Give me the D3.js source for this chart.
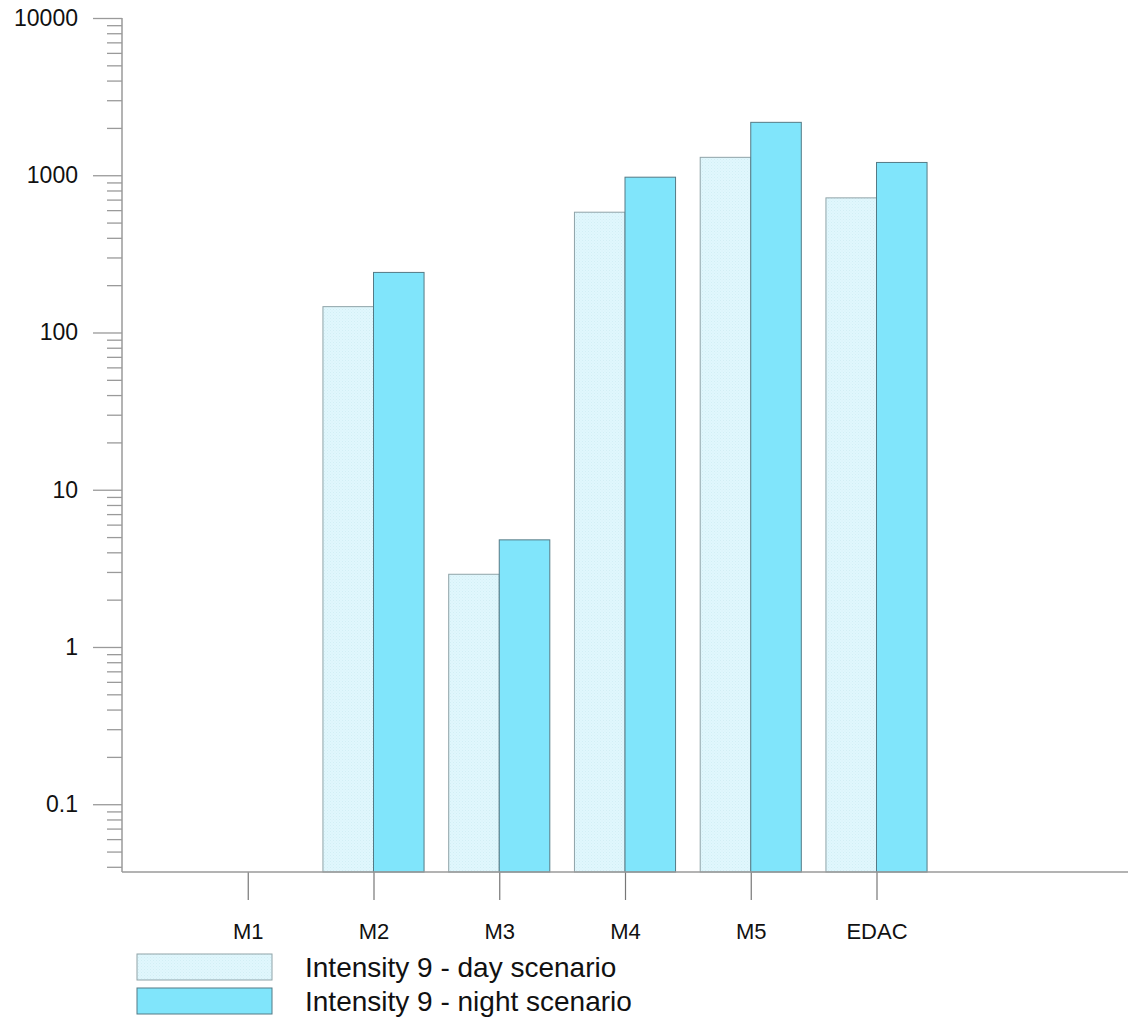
<!DOCTYPE html>
<html>
<head>
<meta charset="utf-8">
<script src="https://cdn.jsdelivr.net/npm/d3@7"></script>
<style>
  html, body { margin: 0; padding: 0; background: #fff; }
  svg { display: block; font-family: "Liberation Sans", Arial, sans-serif; }
</style>
</head>
<body>
<svg id="chart" width="1128" height="1018"></svg>
<script>
// ---- Data ----
const categories = ["M1", "M2", "M3", "M4", "M5", "EDAC"];
const daySeries = [null, 146, 2.9, 582, 1300, 718];
const nightSeries = [null, 241, 4.8, 972, 2170, 1206];
const seriesNames = ["Intensity 9 - day scenario", "Intensity 9 - night scenario"];
const majorTicks = [0.1, 1, 10, 100, 1000, 10000];
const majorTickLabels = ["0.1", "1", "10", "100", "1000", "10000"];

(function () {
// ---- Layout ----
const svg = d3.select("#chart");
const pLeft = 122, pRight = 1128, pTop = 18, pBottom = 872;
const dayFill = "#e0f7fd", nightFill = "#80e5fb";

const y = d3.scaleLog().domain([Math.pow(10, -1.431), 10000]).range([pBottom, pTop]);
// category slots: index 0..8 across the axis, categories at 1..6
const x = d3.scaleLinear().domain([0, 8]).range([pLeft, pRight]);
const step = x(1) - x(0);
const barW = step * 0.402;

// pattern for day bars
const defs = svg.append("defs");
const pat = defs.append("pattern").attr("id", "dots").attr("patternUnits", "userSpaceOnUse")
  .attr("width", 3).attr("height", 3);
pat.append("rect").attr("width", 3).attr("height", 3).attr("fill", dayFill);
pat.append("rect").attr("x", 0).attr("y", 0).attr("width", 1).attr("height", 1).attr("fill", "#d2eef4");
pat.append("rect").attr("x", 1.5).attr("y", 1.5).attr("width", 1).attr("height", 1).attr("fill", "#d8f1f6");

// ---- Bars ----
const g = svg.append("g");
categories.forEach((c, i) => {
  const cx = x(i + 1);
  const d = daySeries[i], n = nightSeries[i];
  if (d != null) {
    g.append("rect").attr("x", cx - barW).attr("y", y(d)).attr("width", barW)
      .attr("height", pBottom - y(d)).attr("fill", "url(#dots)")
      .attr("stroke", "#8fa3a8").attr("stroke-width", 1);
  }
  if (n != null) {
    g.append("rect").attr("x", cx).attr("y", y(n)).attr("width", barW)
      .attr("height", pBottom - y(n)).attr("fill", nightFill)
      .attr("stroke", "#557a85").attr("stroke-width", 1);
  }
});

// ---- Y axis ----
const minorTicks = [];
for (let e = -2; e <= 3; e++) {
  for (let k = 2; k <= 9; k++) {
    const v = k * Math.pow(10, e);
    if (v >= y.domain()[0] && v <= 10000) minorTicks.push(v);
  }
}
const axisColor = "#9a9a9a";
const yMinor = svg.append("g").attr("transform", `translate(${pLeft},0)`)
  .call(d3.axisLeft(y).tickValues(minorTicks).tickSize(15).tickFormat(""));
const yMajor = svg.append("g").attr("transform", `translate(${pLeft},0)`)
  .call(d3.axisLeft(y).tickValues(majorTicks).tickSize(29).tickPadding(15)
    .tickFormat((d, i) => majorTickLabels[i]));
[yMinor, yMajor].forEach(a => {
  a.select(".domain").remove();
  a.selectAll(".tick line").attr("stroke", axisColor).attr("stroke-width", 1.3);
});
yMajor.selectAll(".tick text").attr("font-size", 23).attr("fill", "#111")
  .attr("font-family", "Liberation Sans, Arial, sans-serif");
svg.append("line").attr("x1", pLeft).attr("x2", pLeft).attr("y1", pTop).attr("y2", pBottom)
  .attr("stroke", axisColor).attr("stroke-width", 1.5);

// ---- X axis ----
const xAxis = svg.append("g").attr("transform", `translate(0,${pBottom})`)
  .call(d3.axisBottom(x).tickValues(categories.map((c, i) => i + 1))
    .tickSize(28).tickPadding(23).tickFormat(d => categories[d - 1]));
xAxis.select(".domain").remove();
xAxis.selectAll(".tick line").attr("stroke", "#777").attr("stroke-width", 1.2);
xAxis.selectAll(".tick text").attr("font-size", 22).attr("fill", "#111")
  .attr("font-family", "Liberation Sans, Arial, sans-serif");
svg.append("line").attr("x1", pLeft).attr("x2", pRight).attr("y1", pBottom).attr("y2", pBottom)
  .attr("stroke", axisColor).attr("stroke-width", 1.5);

// ---- Legend ----
const legend = svg.append("g");
const legendFills = ["url(#dots)", nightFill];
const legendStrokes = ["#8fa3a8", "#557a85"];
seriesNames.forEach((name, i) => {
  const ly = 954 + i * 34;
  legend.append("rect").attr("x", 137).attr("y", ly).attr("width", 135).attr("height", 26)
    .attr("fill", legendFills[i]).attr("stroke", legendStrokes[i]).attr("stroke-width", 1);
  legend.append("text").attr("x", 305).attr("y", ly + 13).attr("dy", "0.36em")
    .attr("font-size", 28).attr("fill", "#111").text(name);
});
})();
</script>
</body>
</html>
